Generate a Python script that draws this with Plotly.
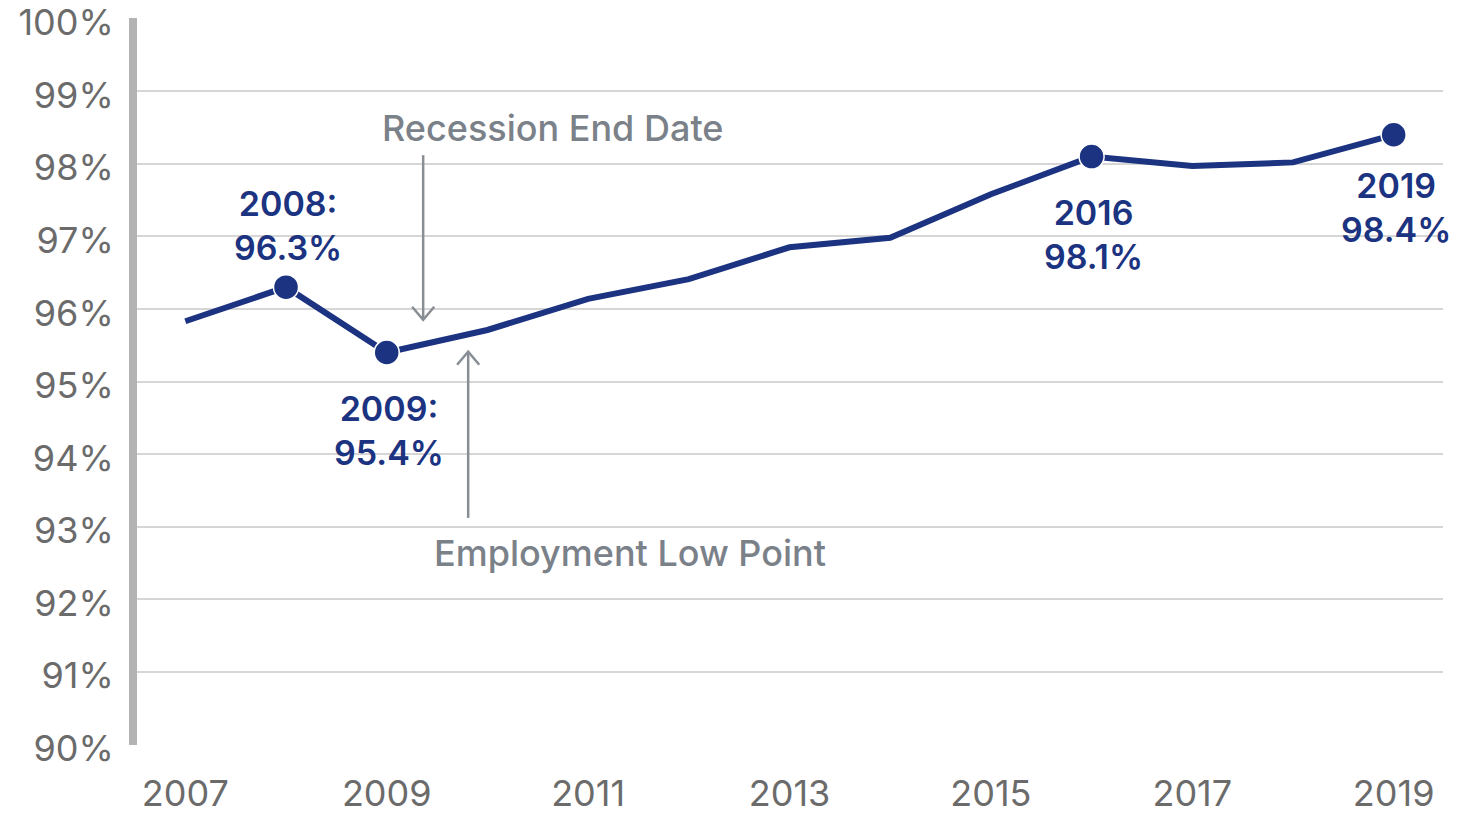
import plotly.graph_objects as go

years = [2007, 2008, 2009, 2010, 2011, 2012, 2013, 2014, 2015, 2016, 2017, 2018, 2019]
rate = [95.83, 96.3, 95.4, 95.71, 96.14, 96.41, 96.85, 96.98, 97.58, 98.1, 97.97, 98.02, 98.4]
highlight_years = [2008, 2009, 2016, 2019]
label_texts = ["2008:<br>96.3%", "2009:<br>95.4%", "2016<br>98.1%", "2019<br>98.4%"]
label_y = [97.15, 94.33, 97.03, 97.40]
x_ticks = [2007, 2009, 2011, 2013, 2015, 2017, 2019]
y_ticks = [90, 91, 92, 93, 94, 95, 96, 97, 98, 99, 100]
y_ticktext = [f"{v}%" for v in y_ticks]

NAVY = "#1b3380"
GREY_TXT = "#6b6b6b"
ANN_GREY = "#7b8189"
ARROW_GREY = "#888e94"
FONT = "Inter"

hx = [y for y in years if y in highlight_years]
hy = [rate[years.index(y)] for y in hx]

fig = go.Figure()
fig.add_trace(go.Scatter(x=years, y=rate, mode="lines",
                         line=dict(color=NAVY, width=6), hoverinfo="skip"))
fig.add_trace(go.Scatter(x=hx, y=hy, mode="markers",
                         marker=dict(color=NAVY, size=25, line=dict(color="white", width=1.5)),
                         hoverinfo="skip"))

for x, t, y in zip(hx, label_texts, label_y):
    fig.add_annotation(x=x + 0.02, y=y, text=t, showarrow=False, xref="x", yref="y",
                       xanchor="center", yanchor="middle",
                       font=dict(family=FONT, size=34, color=NAVY, weight=600))

fig.add_annotation(x=2008.935, y=98.50, text="Recession End Date", showarrow=False,
                   xanchor="left", yanchor="middle",
                   font=dict(family=FONT, size=36, color=ANN_GREY, weight=500))
fig.add_annotation(x=2009.452, y=92.63, text="Employment Low Point", showarrow=False,
                   xanchor="left", yanchor="middle",
                   font=dict(family=FONT, size=36, color=ANN_GREY, weight=500))

# arrows drawn as lines + open chevrons
dx, dy = 0.11, 0.18
arrows = [(2009.362, 98.12, 95.85, -1), (2009.809, 93.12, 95.41, 1)]
for ax_, y0, y1, d in arrows:
    fig.add_shape(type="line", x0=ax_, x1=ax_, y0=y0, y1=y1, xref="x", yref="y",
                  line=dict(color=ARROW_GREY, width=2.5))
    fig.add_shape(type="path", xref="x", yref="y",
                  path=f"M {ax_-dx},{y1 - d*dy} L {ax_},{y1} L {ax_+dx},{y1 - d*dy}",
                  line=dict(color=ARROW_GREY, width=2.5))

fig.update_layout(
    width=1478, height=815,
    margin=dict(l=137, r=35, t=18, b=70),
    paper_bgcolor="white", plot_bgcolor="white",
    showlegend=False,
    font=dict(family=FONT),
)
fig.update_xaxes(range=[2006.52, 2019.49], tickvals=x_ticks, ticktext=[str(v) for v in x_ticks],
                 showgrid=False, zeroline=False, showline=False, ticks="", automargin=False,
                 ticklabeloverflow="allow",
                 tickfont=dict(family=FONT, size=36, color=GREY_TXT), ticklabelstandoff=24)
fig.update_yaxes(range=[89.99, 100.01], tickvals=y_ticks, ticktext=y_ticktext,
                 showgrid=True, gridcolor="#d6d6d6", gridwidth=2, zeroline=False,
                 showline=True, linecolor="#b3b3b3", linewidth=8, ticks="", automargin=False,
                 ticklabeloverflow="allow", ticklabelshift=4,
                 tickfont=dict(family=FONT, size=36, color=GREY_TXT), ticklabelstandoff=8)

# remove the default page margin so the figure sits at the window's top-left corner
fig.write_html("out.html", config={"displayModeBar": False},
               post_script="document.body.style.margin='0';document.body.style.overflow='hidden';")
